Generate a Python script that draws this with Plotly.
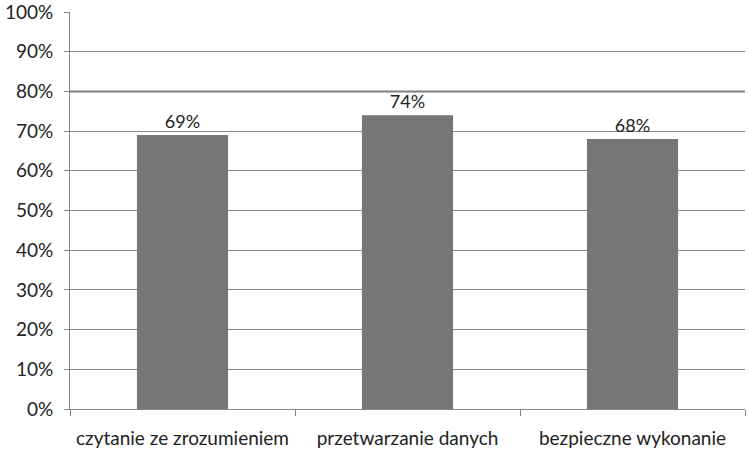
import plotly.graph_objects as go

categories = ["czytanie ze zrozumieniem", "przetwarzanie danych", "bezpieczne wykonanie"]
values = [0.69, 0.74, 0.68]
labels = ["69%", "74%", "68%"]

fig = go.Figure()

fig.add_trace(go.Bar(
    x=categories,
    y=values,
    text=labels,
    textposition="outside",
    textfont=dict(size=18, color="#222222"),
    marker=dict(color="#767677", line=dict(width=0)),
    cliponaxis=False,
))

# thicker 80% line as in the source
fig.add_hline(y=0.8, line=dict(color="#808080", width=2))

fig.update_layout(
    width=750,
    height=470,
    margin=dict(l=70, r=5, t=12, b=61, autoexpand=False),
    paper_bgcolor="white",
    plot_bgcolor="white",
    font=dict(family="Lato", size=19, color="#222222"),
    bargap=0.595,
    showlegend=False,
)

fig.update_xaxes(
    showline=True,
    linecolor="#868686",
    linewidth=1,
    ticks="outside",
    tickson="boundaries",
    ticklen=6,
    tickcolor="#868686",
    showgrid=False,
    tickfont=dict(size=19),
    ticklabelstandoff=12,
)

fig.update_yaxes(
    range=[0, 1],
    dtick=0.1,
    tickformat=".0%",
    showline=True,
    linecolor="#868686",
    linewidth=1,
    ticks="outside",
    ticklen=5,
    tickcolor="#868686",
    showgrid=True,
    gridcolor="#868686",
    gridwidth=1,
    zeroline=False,
    tickfont=dict(size=19),
    ticklabelstandoff=7,
    ticklabeloverflow="allow",
)

# drop the browser's default 8px body margin so the figure sits at 0,0
fig.write_html(
    "out.html",
    config={"displayModeBar": False},
    post_script="document.body.style.margin='0';",
)
